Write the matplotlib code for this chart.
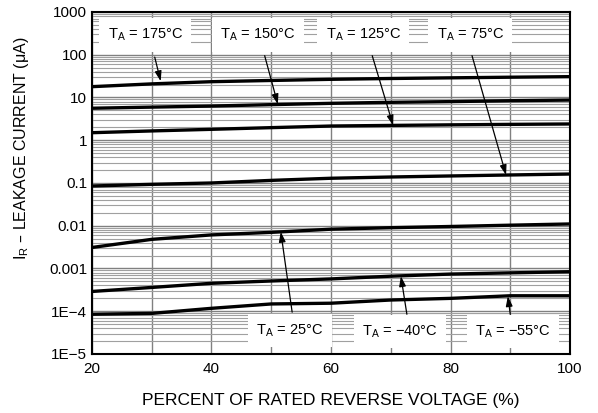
import numpy as np
import matplotlib
matplotlib.use("Agg")
import matplotlib.pyplot as plt
from matplotlib.ticker import FixedLocator, FixedFormatter, LogLocator, NullFormatter

plt.rcParams['font.family'] = ['Liberation Sans', 'DejaVu Sans']

# percent of rated reverse voltage
v = [20, 30, 40, 50, 60, 70, 80, 90, 100]

# leakage current (uA) for each temperature
i_175 = [17.9, 20.8, 23.4, 25.0, 26.6, 27.8, 28.8, 29.8, 30.7]
i_150 = [5.6, 5.95, 6.3, 6.8, 7.3, 7.7, 8.0, 8.4, 8.7]
i_125 = [1.5, 1.65, 1.8, 1.97, 2.15, 2.22, 2.29, 2.35, 2.4]
i_75 = [0.085, 0.093, 0.10, 0.115, 0.129, 0.138, 0.146, 0.154, 0.162]
i_25 = [0.0031, 0.0048, 0.0061, 0.0070, 0.0083, 0.0090, 0.0096, 0.0103, 0.011]
i_m40 = [0.00029, 0.00036, 0.00045, 0.00051, 0.00057, 0.00066, 0.00074, 0.00079, 0.00084]
i_m55 = [8.5e-5, 8.9e-5, 1.17e-4, 1.48e-4, 1.54e-4, 1.83e-4, 2.0e-4, 2.3e-4, 2.3e-4]

curves = [i_175, i_150, i_125, i_75, i_25, i_m40, i_m55]

# labels: text, label x, label y, arrow tail (x, y), arrow head (x, y)
labels = ["175", "150", "125", "75", "25", "\u221240", "\u221255"]
label_x = [28.9, 47.8, 65.4, 83.3, 53.1, 71.5, 90.4]
label_y = [290, 290, 290, 290, 3.6e-5, 3.4e-5, 3.4e-5]
tail = [(30.5, 88), (48.9, 95), (66.9, 95), (83.6, 95), (53.5, 9.5e-5), (72.7, 8.5e-5), (90.0, 8.5e-5)]
head = [(31.5, 24.0), (51.1, 6.95), (70.4, 2.22), (89.3, 0.153), (51.6, 0.0072), (71.7, 0.00066), (89.6, 0.000225)]

yticks = [1e-5, 1e-4, 1e-3, 1e-2, 1e-1, 1, 10, 100, 1000]
ytick_labels = ["1E\u22125", "1E\u22124", "0.001", "0.01", "0.1", "1", "10", "100", "1000"]

fig = plt.figure(figsize=(5.98, 4.13), dpi=100)
ax = fig.add_axes([0.1538, 0.1429, 0.7994, 0.8281])

ax.set_yscale('log')
ax.set_xlim(20, 100)
ax.set_ylim(1e-5, 1000)

ax.yaxis.set_major_locator(FixedLocator(yticks))
ax.yaxis.set_major_formatter(FixedFormatter(ytick_labels))
ax.yaxis.set_minor_locator(LogLocator(base=10, subs=np.arange(2, 10), numticks=20))
ax.yaxis.set_minor_formatter(NullFormatter())
ax.xaxis.set_major_locator(FixedLocator([20, 40, 60, 80, 100]))
ax.xaxis.set_minor_locator(FixedLocator([30, 50, 70, 90]))

ax.grid(True, which='major', axis='y', color='#808080', lw=1.0, zorder=0)
ax.grid(True, which='minor', axis='y', color='#a0a0a0', lw=0.8, zorder=0)
ax.grid(True, which='both', axis='x', color='#808080', lw=1.0, zorder=0)

ax.tick_params(which='both', length=0, labelsize=11)
ax.tick_params(axis='x', pad=6)
for s in ax.spines.values():
    s.set_linewidth(1.5)

for c in curves:
    ax.plot(v, c, color='black', lw=2.4, zorder=3)

for t, lx, ly, tl, hd in zip(labels, label_x, label_y, tail, head):
    ax.text(lx, ly, "T$_\\mathregular{A}$ = " + t + "\u00b0C", ha='center', va='center',
            fontsize=10.5, zorder=5,
            bbox=dict(facecolor='white', edgecolor='none', pad=6))
    ax.annotate("", xy=hd, xytext=tl, zorder=4,
                arrowprops=dict(arrowstyle='-|>,head_length=0.6,head_width=0.2', color='black', lw=0.9,
                                mutation_scale=10, shrinkA=0, shrinkB=0))

ax.set_xlabel("PERCENT OF RATED REVERSE VOLTAGE (%)", fontsize=12.5, labelpad=12)
ax.set_ylabel("I$_\\mathregular{R}$ \u2013 LEAKAGE CURRENT (\u03bcA)", fontsize=11.5)
ax.yaxis.set_label_coords(-0.128, 0.6)

fig.savefig("out.png", dpi=100)
